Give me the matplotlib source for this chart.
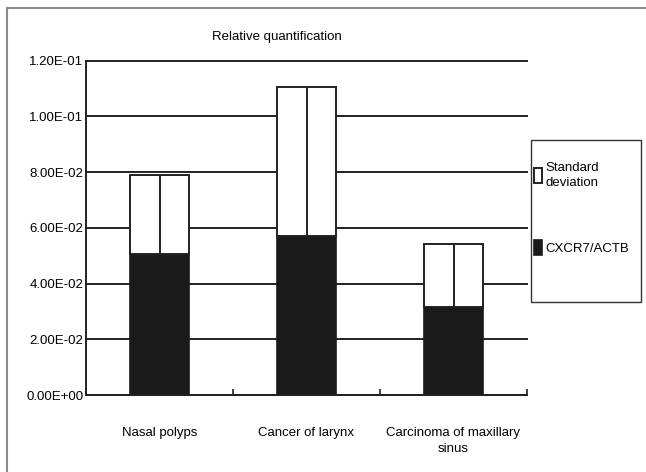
import numpy as np
import matplotlib
matplotlib.use("Agg")
import matplotlib.pyplot as plt
from matplotlib.patches import Rectangle
from matplotlib.ticker import FuncFormatter

plt.rcParams["font.family"] = ["Liberation Sans", "DejaVu Sans"]
plt.rcParams["font.size"] = 9.5

# data
groups = ["Nasal polyps", "Cancer of larynx", "Carcinoma of maxillary\nsinus"]
ratio = [0.0506, 0.0570, 0.0317]      # CXCR7/ACTB
std_dev = [0.0285, 0.0536, 0.0226]    # standard deviation
y_ticks = [0.0, 0.02, 0.04, 0.06, 0.08, 0.10, 0.12]

fig = plt.figure(figsize=(6.46, 4.72), dpi=100)
ax = fig.add_axes([86 / 646, 1 - 395 / 472, 441 / 646, 334.3 / 472])

x = np.arange(len(groups))
w = 0.4
ax.bar(x, ratio, w, color="#1a1a1a", edgecolor="#1a1a1a", lw=1.2,
       label="CXCR7/ACTB", zorder=2)
ax.bar(x, std_dev, w, bottom=ratio, color="white", edgecolor="#222222",
       lw=1.4, label="Standard deviation", zorder=2)
ax.errorbar(x, ratio, yerr=[np.zeros(len(x)), std_dev], fmt="none",
            ecolor="#222222", elinewidth=1.4, capsize=0, zorder=3)

ax.set_xlim(-0.5, len(groups) - 0.5)
ax.set_ylim(0, 0.12)
ax.set_yticks(y_ticks)
ax.yaxis.set_major_formatter(FuncFormatter(lambda v, p: f"{v:.2E}"))
ax.tick_params(axis="y", length=0, pad=2, labelsize=9.5)
ax.grid(axis="y", color="#222222", lw=1.4)
ax.set_axisbelow(True)
for g in ax.yaxis.get_gridlines():
    g.set_clip_on(False)

ax.set_xticks(np.arange(len(groups) + 1) - 0.5)
ax.set_xticklabels([])
ax.tick_params(axis="x", which="major", direction="in", length=4.5,
               width=1.2, color="#222222")
ax.set_xticks(x, minor=True)
ax.set_xticklabels(groups, minor=True, linespacing=1.5)
ax.tick_params(axis="x", which="minor", length=0, pad=23, labelsize=9.5)

for s in ["top", "right"]:
    ax.spines[s].set_visible(False)
for s in ["left", "bottom"]:
    ax.spines[s].set_color("#222222")
    ax.spines[s].set_linewidth(1.4)

fig.text(277 / 646, 1 - 37 / 472, "Relative quantification",
         ha="center", va="center", fontsize=9.5)

# outer frame (top and left edges)
fig.add_artist(plt.Line2D([7 / 646, 1], [1 - 8 / 472] * 2, color="#8c8c8c",
                          lw=1.5, transform=fig.transFigure))
fig.add_artist(plt.Line2D([7 / 646] * 2, [0, 1 - 8 / 472], color="#8c8c8c",
                          lw=1.5, transform=fig.transFigure))

# legend box
fig.add_artist(Rectangle((531 / 646, 1 - 302 / 472), 110 / 646, 162 / 472,
                         fill=False, edgecolor="#333333", lw=1.0,
                         transform=fig.transFigure))
h, l = ax.get_legend_handles_labels()
leg = fig.legend(h[::-1], ["Standard\ndeviation", "CXCR7/ACTB"],
                 loc="upper left", bbox_to_anchor=(534 / 646, 1 - 162 / 472),
                 frameon=False, handlelength=0.6, handleheight=1.3,
                 handletextpad=0.3, labelspacing=3.9, fontsize=9.5,
                 borderpad=0, borderaxespad=0)
for t in leg.get_texts():
    t.set_linespacing(1.3)

fig.savefig("out.png", dpi=100)
